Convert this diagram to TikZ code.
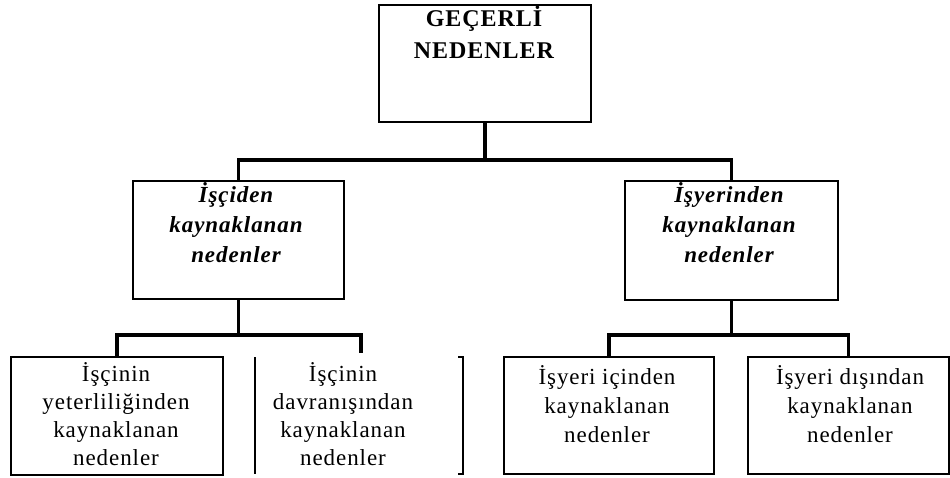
\documentclass[tikz,border=0pt]{standalone}
\usepackage{fontspec}
\setmainfont{Liberation Serif}
\newfontfamily\topfont[LetterSpace=4]{Liberation Serif}
\newfontfamily\midfont[LetterSpace=4]{Liberation Serif}
\newfontfamily\lowfont[LetterSpace=4]{Liberation Serif}
\begin{document}
\begin{tikzpicture}[x=1pt,y=-1pt,
  box/.style={draw=black, line width=2pt, inner sep=0pt, anchor=north west},
  conn/.style={draw=black, line width=3.4pt},
  edge/.style={draw=black, line width=2pt},
  txt/.style={inner sep=0pt, align=center, anchor=base},
  toptxt/.style={txt, font=\topfont\bfseries\fontsize{24}{32}\selectfont},
  midtxt/.style={txt, font=\midfont\bfseries\itshape\fontsize{23}{29.5}\selectfont},
  lowtxt/.style={txt, font=\lowfont\fontsize{23}{27.7}\selectfont},
  lowtxtb/.style={txt, font=\lowfont\fontsize{23}{29}\selectfont}]
\fill[white] (0,0) rectangle (950,478);
\useasboundingbox (0,0) rectangle (950,478);

% boxes
\node[box, minimum width=212pt, minimum height=117pt] (top) at (378,4) {};
\node[box, minimum width=211pt, minimum height=118pt] (midL) at (132,180) {};
\node[box, minimum width=213pt, minimum height=119pt] (midR) at (624,180) {};
\node[box, minimum width=212pt, minimum height=118pt] (bl) at (10,356) {};
\node[inner sep=0pt, anchor=north west, minimum width=208pt, minimum height=117pt] (dav) at (255,357) {};
\node[box, minimum width=210pt, minimum height=117pt] (br1) at (503,356) {};
\node[box, minimum width=201pt, minimum height=117pt] (br2) at (747,356) {};

% side lines of the open middle item
\draw[edge] (dav.north west) -- (dav.south west);
\draw[edge] ([xshift=-5pt]dav.north east) -- (dav.north east) -- (dav.south east) -- ([xshift=-5pt]dav.south east);

% texts
\node[toptxt] (topT) at (484,59) {GEÇERLİ\\NEDENLER};
\node[midtxt] (midLT) at (236,262) {İşçiden\\kaynaklanan\\nedenler};
\node[midtxt] (midRT) at (729,262) {İşyerinden\\kaynaklanan\\nedenler};
\node[lowtxt] (blT) at (116,465) {İşçinin\\yeterliliğinden\\kaynaklanan\\nedenler};
\node[lowtxt] (davT) at (343,465) {İşçinin\\davranışından\\kaynaklanan\\nedenler};
\node[lowtxtb] (br1T) at (607,442) {İşyeri içinden\\kaynaklanan\\nedenler};
\node[lowtxtb] (br2T) at (850,442) {İşyeri dışından\\kaynaklanan\\nedenler};

% connectors
\coordinate (barA) at (484,160);
\coordinate (barB) at (237,335);
\coordinate (barC) at (729,335);
\coordinate (s2) at (361,353);
\draw[conn] (top.south) -- (top.south |- barA);
\draw[conn] (midL.north) |- (barA) -| (midR.north);
\draw[conn] (midL.south) -- (midL.south |- barB);
\draw[conn] (bl.north) -- (bl.north |- barB) -| (s2);
\draw[conn] (midR.south) -- (midR.south |- barC);
\draw[conn] (br1.north) -- (br1.north |- barC) -| (br2.north);
\end{tikzpicture}
\end{document}
